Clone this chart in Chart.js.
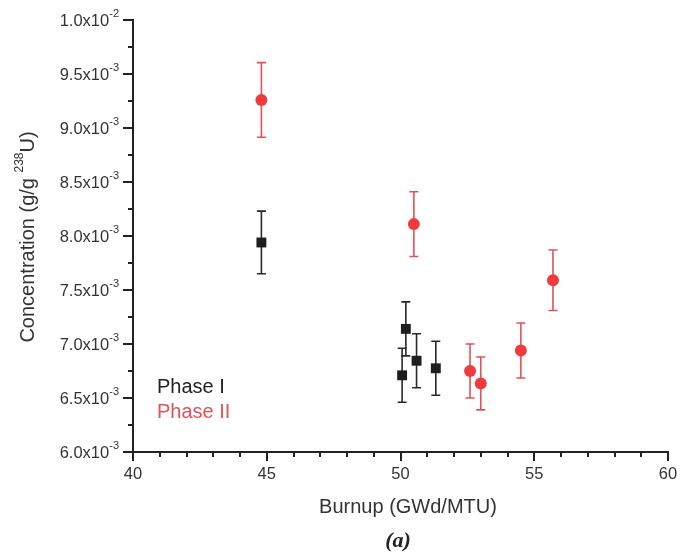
<!DOCTYPE html>
<html>
<head>
<meta charset="utf-8">
<script src="https://cdn.jsdelivr.net/npm/chart.js@4.4.0/dist/chart.umd.min.js"></script>
<style>
html,body{margin:0;padding:0;background:#fff;}
#wrap{width:680px;height:557px;position:relative;}
</style>
</head>
<body>
<div id="wrap"><canvas id="c" width="680" height="557"></canvas></div>
<script>
// ---- data ----
const phase1X = [44.8, 50.06, 50.2, 50.6, 51.32];
const phase1Y = [0.00794, 0.00671, 0.00714, 0.006845, 0.006775];
const phase1Err = [0.00029, 0.00025, 0.00025, 0.00025, 0.00025];

const phase2X = [44.8, 50.5, 52.6, 53.0, 54.5, 55.7];
const phase2Y = [0.00926, 0.00811, 0.00675, 0.006635, 0.00694, 0.00759];
const phase2Err = [0.000345, 0.0003, 0.00025, 0.000245, 0.000255, 0.00028];

const xTickValues = [40, 45, 50, 55, 60];
const xTickLabels = ['40', '45', '50', '55', '60'];
const yTickValues = [0.006, 0.0065, 0.007, 0.0075, 0.008, 0.0085, 0.009, 0.0095, 0.010];
const yTickMantissa = ['6.0', '6.5', '7.0', '7.5', '8.0', '8.5', '9.0', '9.5', '1.0'];
const yTickExp = ['-3', '-3', '-3', '-3', '-3', '-3', '-3', '-3', '-2'];
const xMinorStep = 1;
const yMinorStep = 0.00025;

const seriesNames = ['Phase I', 'Phase II'];
const blackCol = '#1e1e1e';
const redCol = '#ef3b3b';
const redErrCol = '#e4505a';

function pts(xs, ys) { return xs.map((x, i) => ({x: x, y: ys[i]})); }

const FONT = '"Liberation Sans", Arial, sans-serif';

const errPlugin = {
  id: 'errbars',
  beforeDatasetsDraw(chart) {
    const ctx = chart.ctx;
    const xs = chart.scales.x, ys = chart.scales.y;
    const sets = [[phase1X, phase1Y, phase1Err, '#2a2a2a'], [phase2X, phase2Y, phase2Err, redErrCol]];
    ctx.save();
    sets.forEach(s => {
      ctx.strokeStyle = s[3];
      ctx.lineWidth = 1.6;
      s[0].forEach((xv, i) => {
        const px = xs.getPixelForValue(xv);
        const pt = ys.getPixelForValue(s[1][i] + s[2][i]);
        const pb = ys.getPixelForValue(s[1][i] - s[2][i]);
        ctx.beginPath();
        ctx.moveTo(px, pt); ctx.lineTo(px, pb);
        ctx.moveTo(px - 4.5, pt); ctx.lineTo(px + 4.5, pt);
        ctx.moveTo(px - 4.5, pb); ctx.lineTo(px + 4.5, pb);
        ctx.stroke();
      });
    });
    ctx.restore();
  },
  afterDraw(chart) {
    const ctx = chart.ctx;
    const xs = chart.scales.x, ys = chart.scales.y;
    const ca = chart.chartArea;
    ctx.save();
    ctx.strokeStyle = '#222';
    ctx.lineWidth = 2;
    // y ticks
    for (let v = ys.min; v <= ys.max + 1e-9; v += yMinorStep) {
      const py = Math.round(ys.getPixelForValue(v));
      const major = Math.abs((v / 0.0005) - Math.round(v / 0.0005)) < 1e-6;
      ctx.beginPath();
      ctx.moveTo(ca.left, py); ctx.lineTo(ca.left - (major ? 10 : 5), py);
      ctx.stroke();
    }
    // x ticks
    for (let v = xs.min; v <= xs.max + 1e-9; v += xMinorStep) {
      const px = Math.round(xs.getPixelForValue(v));
      const major = Math.abs(v % 5) < 1e-6;
      ctx.beginPath();
      ctx.moveTo(px, ca.bottom); ctx.lineTo(px, ca.bottom + (major ? 9 : 5));
      ctx.stroke();
    }
    // y tick labels
    ctx.fillStyle = '#333';
    ctx.textBaseline = 'middle';
    yTickValues.forEach((v, i) => {
      const py = ys.getPixelForValue(v);
      ctx.font = '11px ' + FONT;
      ctx.textAlign = 'left';
      const ew = ctx.measureText(yTickExp[i]).width;
      const right = 119;
      ctx.fillText(yTickExp[i], right - ew, py - 6);
      ctx.font = '16.5px ' + FONT;
      ctx.textAlign = 'right';
      ctx.fillText(yTickMantissa[i] + 'x10', right - ew, py + 1);
    });
    // x tick labels
    ctx.font = '16.5px ' + FONT;
    ctx.textAlign = 'center';
    ctx.textBaseline = 'middle';
    xTickValues.forEach((v, i) => {
      ctx.fillText(xTickLabels[i], xs.getPixelForValue(v), 474);
    });
    // x title
    ctx.font = '20px ' + FONT;
    ctx.fillStyle = '#333';
    ctx.fillText('Burnup (GWd/MTU)', 408, 507);
    // (a)
    ctx.font = 'italic bold 22px "Liberation Serif", "Times New Roman", serif';
    ctx.fillStyle = '#222';
    ctx.fillText('(a)', 398, 541);
    // y title rotated
    ctx.save();
    ctx.translate(27, 237);
    ctx.rotate(-Math.PI / 2);
    ctx.fillStyle = '#333';
    const p1 = 'Concentration (g/g ', p2 = '238', p3 = 'U)';
    ctx.font = '20px ' + FONT;
    const w1 = ctx.measureText(p1).width, w3 = ctx.measureText(p3).width;
    ctx.font = '12px ' + FONT;
    const w2 = ctx.measureText(p2).width;
    let sx = -(w1 + w2 + w3) / 2;
    ctx.textAlign = 'left';
    ctx.font = '20px ' + FONT;
    ctx.fillText(p1, sx, 1);
    ctx.font = '12px ' + FONT;
    ctx.fillText(p2, sx + w1, -7);
    ctx.font = '20px ' + FONT;
    ctx.fillText(p3, sx + w1 + w2, 1);
    ctx.restore();
    // legend text
    ctx.font = '20px ' + FONT;
    ctx.textAlign = 'left';
    ctx.fillStyle = '#222';
    ctx.fillText(seriesNames[0], 157, 387);
    ctx.fillStyle = redErrCol;
    ctx.fillText(seriesNames[1], 157, 412);
    ctx.restore();
  }
};

new Chart(document.getElementById('c'), {
  type: 'scatter',
  data: {
    datasets: [
      {label: seriesNames[0], data: pts(phase1X, phase1Y), pointStyle: 'rect', pointRadius: 7,
       backgroundColor: blackCol, borderColor: blackCol, borderWidth: 0, showLine: false},
      {label: seriesNames[1], data: pts(phase2X, phase2Y), pointStyle: 'circle', pointRadius: 6,
       backgroundColor: redCol, borderColor: redCol, borderWidth: 0, showLine: false}
    ]
  },
  options: {
    responsive: false,
    animation: false,
    events: [],
    layout: {padding: {left: 0, top: 20, right: 12, bottom: 0}},
    plugins: {legend: {display: false}, tooltip: {enabled: false}},
    scales: {
      x: {
        type: 'linear', min: 40, max: 60,
        ticks: {display: false},
        grid: {display: true, drawOnChartArea: false, drawTicks: false},
        border: {display: true, color: '#222', width: 2},
        afterFit(s) { s.height = 105; }
      },
      y: {
        type: 'linear', min: 0.006, max: 0.010,
        ticks: {display: false},
        grid: {display: true, drawOnChartArea: false, drawTicks: false},
        border: {display: true, color: '#222', width: 2},
        afterFit(s) { s.width = 133; }
      }
    }
  },
  plugins: [errPlugin]
});
</script>
</body>
</html>
